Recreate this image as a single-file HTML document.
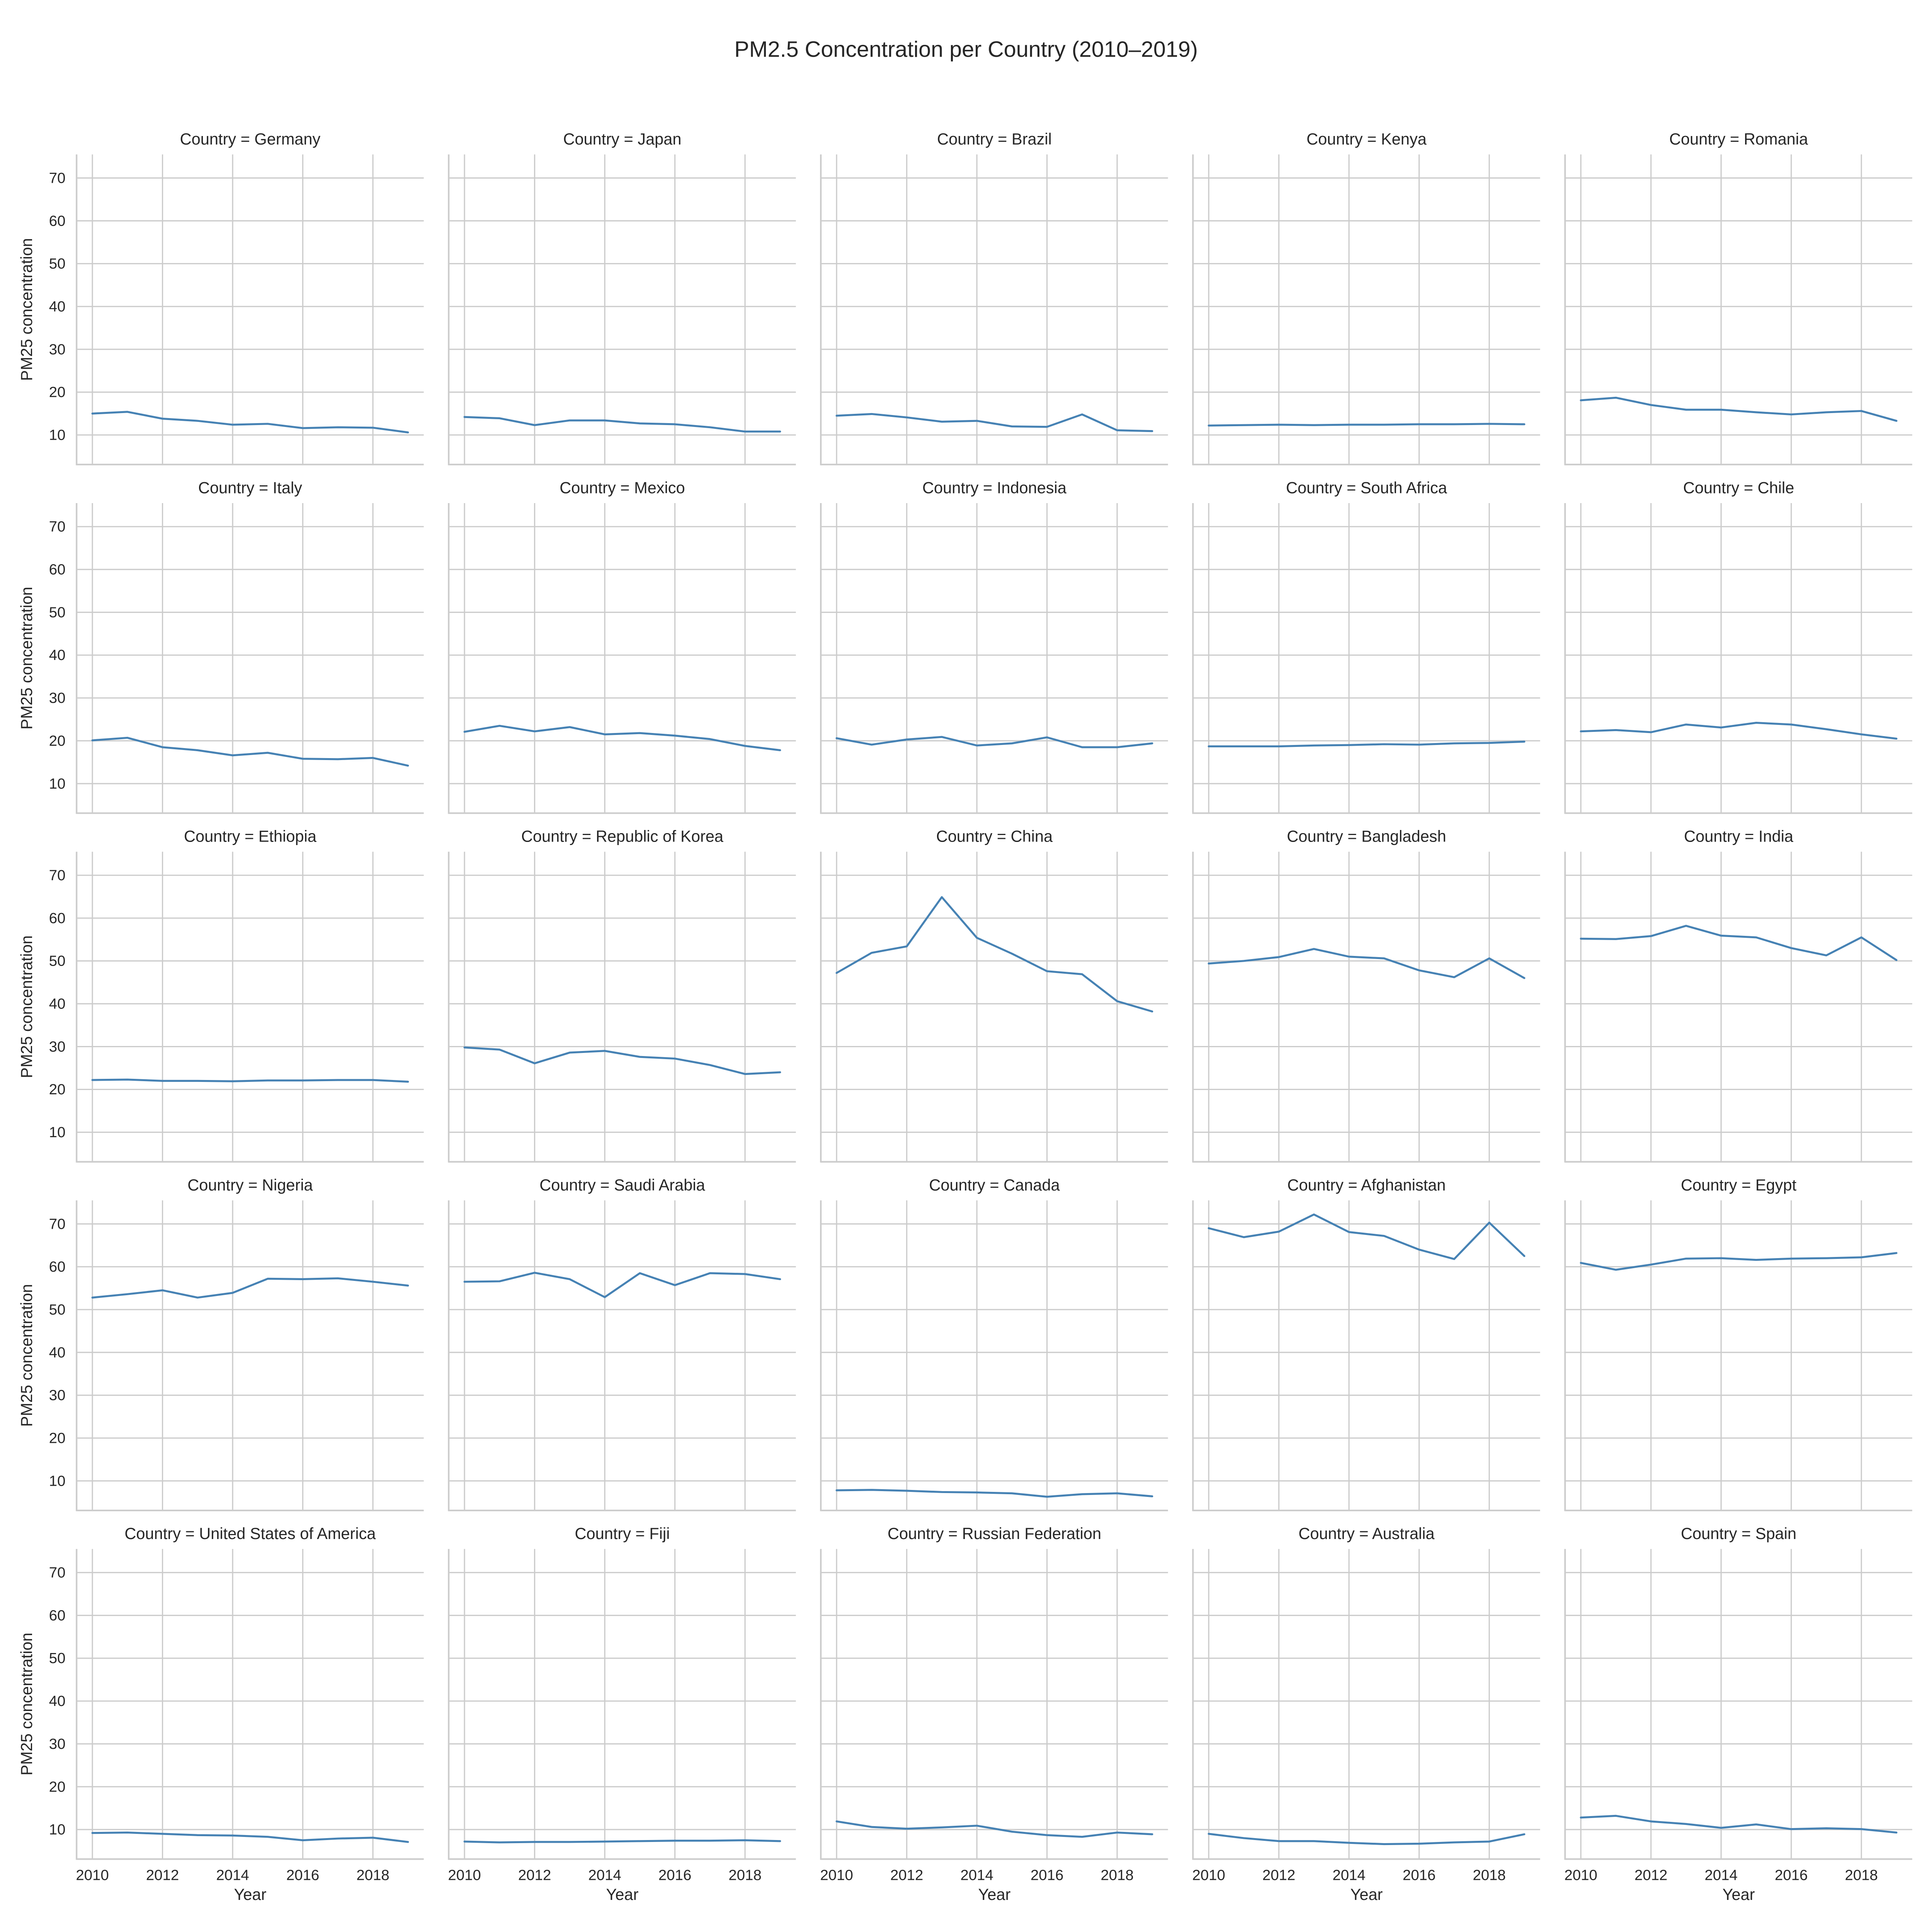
<!DOCTYPE html>
<html><head><meta charset="utf-8"><style>
html,body{margin:0;padding:0;background:#fff;overflow:hidden;width:5250px;height:5250px;}
svg{display:block;}
text{font-family:"Liberation Sans",Arial,sans-serif;fill:#262626;}
</style></head><body>
<svg id="chart" width="5250" height="5250" viewBox="0 0 1642 1642" xmlns="http://www.w3.org/2000/svg">
<text x="782" y="46" font-size="18" text-anchor="middle">PM2.5 Concentration per Country (2010–2019)</text>
</svg>
<script>
const years = [2010,2011,2012,2013,2014,2015,2016,2017,2018,2019];
const countries = ["Germany","Japan","Brazil","Kenya","Romania","Italy","Mexico","Indonesia","South Africa","Chile","Ethiopia","Republic of Korea","China","Bangladesh","India","Nigeria","Saudi Arabia","Canada","Afghanistan","Egypt","United States of America","Fiji","Russian Federation","Australia","Spain"];
const germany = [15.0,15.4,13.8,13.3,12.4,12.6,11.6,11.8,11.7,10.6];
const japan = [14.2,13.9,12.3,13.4,13.4,12.7,12.5,11.8,10.8,10.8];
const brazil = [14.5,14.9,14.1,13.1,13.3,12.0,11.9,14.8,11.1,10.9];
const kenya = [12.2,12.3,12.4,12.3,12.4,12.4,12.5,12.5,12.6,12.5];
const romania = [18.1,18.7,17.0,15.9,15.9,15.3,14.8,15.3,15.6,13.3];
const italy = [20.1,20.7,18.5,17.8,16.6,17.2,15.8,15.7,16.0,14.2];
const mexico = [22.1,23.5,22.2,23.2,21.5,21.8,21.2,20.4,18.8,17.8];
const indonesia = [20.6,19.1,20.3,20.9,18.9,19.4,20.8,18.5,18.5,19.4];
const southAfrica = [18.7,18.7,18.7,18.9,19.0,19.2,19.1,19.4,19.5,19.8];
const chile = [22.2,22.5,22.0,23.8,23.1,24.2,23.8,22.7,21.5,20.5];
const ethiopia = [22.2,22.3,22.0,22.0,21.9,22.1,22.1,22.2,22.2,21.8];
const korea = [29.8,29.3,26.1,28.6,29.0,27.6,27.2,25.7,23.6,24.0];
const china = [47.2,51.9,53.4,64.9,55.4,51.7,47.6,46.9,40.6,38.2];
const bangladesh = [49.4,50.0,50.9,52.8,51.0,50.6,47.8,46.2,50.6,46.0];
const india = [55.2,55.1,55.8,58.2,55.9,55.5,53.0,51.3,55.5,50.2];
const nigeria = [52.8,53.6,54.5,52.8,53.9,57.2,57.1,57.3,56.5,55.6];
const saudiArabia = [56.5,56.6,58.6,57.1,52.9,58.5,55.7,58.5,58.3,57.1];
const canada = [7.8,7.9,7.7,7.4,7.3,7.1,6.3,6.9,7.1,6.4];
const afghanistan = [69.0,66.9,68.2,72.2,68.1,67.2,64.0,61.8,70.3,62.5];
const egypt = [60.9,59.3,60.5,61.9,62.0,61.6,61.9,62.0,62.2,63.2];
const usa = [9.2,9.3,9.0,8.7,8.6,8.3,7.5,7.9,8.1,7.1];
const fiji = [7.2,7.0,7.1,7.1,7.2,7.3,7.4,7.4,7.5,7.3];
const russia = [11.9,10.6,10.2,10.5,10.9,9.5,8.7,8.3,9.3,8.9];
const australia = [9.0,8.0,7.3,7.3,6.9,6.6,6.7,7.0,7.2,8.9];
const spain = [12.8,13.2,11.9,11.3,10.4,11.2,10.1,10.3,10.1,9.3];
const series = [germany,japan,brazil,kenya,romania,italy,mexico,indonesia,southAfrica,chile,ethiopia,korea,china,bangladesh,india,nigeria,saudiArabia,canada,afghanistan,egypt,usa,fiji,russia,australia,spain];
const yTicks = [10,20,30,40,50,60,70];
const xTicks = [2010,2012,2014,2016,2018];

const NS = "http://www.w3.org/2000/svg";
const svg = document.getElementById("chart");
const X0 = 62, PW = 281, XSTEP = 301.2, Y0 = 125, PH = 251, YSTEP = 282.2;
const XMIN = 2009.55, XMAX = 2019.45, YMIN = 3.1, YMAX = 75.5;
function mk(tag, attrs, parent){const e=document.createElementNS(NS,tag);for(const k in attrs)e.setAttribute(k,attrs[k]);(parent||svg).appendChild(e);return e;}

countries.forEach((name, i) => {
  const col = i % 5, row = Math.floor(i / 5);
  const left = X0 + col * XSTEP, top = Y0 + row * YSTEP, bottom = top + PH, right = left + PW;
  const xs = v => left + (v - XMIN) / (XMAX - XMIN) * PW;
  const ys = v => bottom - (v - YMIN) / (YMAX - YMIN) * PH;
  const g = mk("g", {});
  
  
  yTicks.forEach(t => {
    const l = mk("line", {x1:left, x2:right, y1:ys(t), y2:ys(t), stroke:"#cccccc", "stroke-width":1}, g);
    
    
    if (col === 0) {
      const tx = mk("text", {x:left-9, y:ys(t)+4, "font-size":12, "text-anchor":"end"}, g);
      tx.textContent = t;
      
      
    }
  });
  xTicks.forEach(t => {
    const l = mk("line", {x1:xs(t), x2:xs(t), y1:top, y2:bottom, stroke:"#cccccc", "stroke-width":1}, g);
    
    
    if (row === 4) {
      const tx = mk("text", {x:xs(t), y:bottom+17, "font-size":12, "text-anchor":"middle"}, g);
      tx.textContent = t;
      
      
    }
  });
  const sl = mk("line", {x1:left, x2:left, y1:top, y2:bottom+0.6, stroke:"#cccccc", "stroke-width":1.3}, g);
  
  
  const sb = mk("line", {x1:left, x2:right, y1:bottom, y2:bottom, stroke:"#cccccc", "stroke-width":1.3}, g);
  
  
  const pts = series[i].map((v, k) => xs(years[k]).toFixed(2) + "," + ys(v).toFixed(2)).join(" ");
  const pl = mk("polyline", {points:pts, fill:"none", stroke:"#4682b4", "stroke-width":1.6, "stroke-linejoin":"round", "stroke-linecap":"round"}, g);
  
  
  const tt = mk("text", {x:left+PW/2, y:top-8, "font-size":13, "text-anchor":"middle"}, g);
  tt.textContent = "Country = " + name;
  
  
  if (col === 0) {
    const yl = mk("text", {x:0, y:0, "font-size":13, "text-anchor":"middle", transform:`translate(26,${top+PH/2}) rotate(-90)`}, g);
    yl.textContent = "PM25 concentration";
    
    
  }
  if (row === 4) {
    const xl = mk("text", {x:left+PW/2, y:bottom+33, "font-size":13, "text-anchor":"middle"}, g);
    xl.textContent = "Year";
    
    
  }
});
</script>
</body></html>
